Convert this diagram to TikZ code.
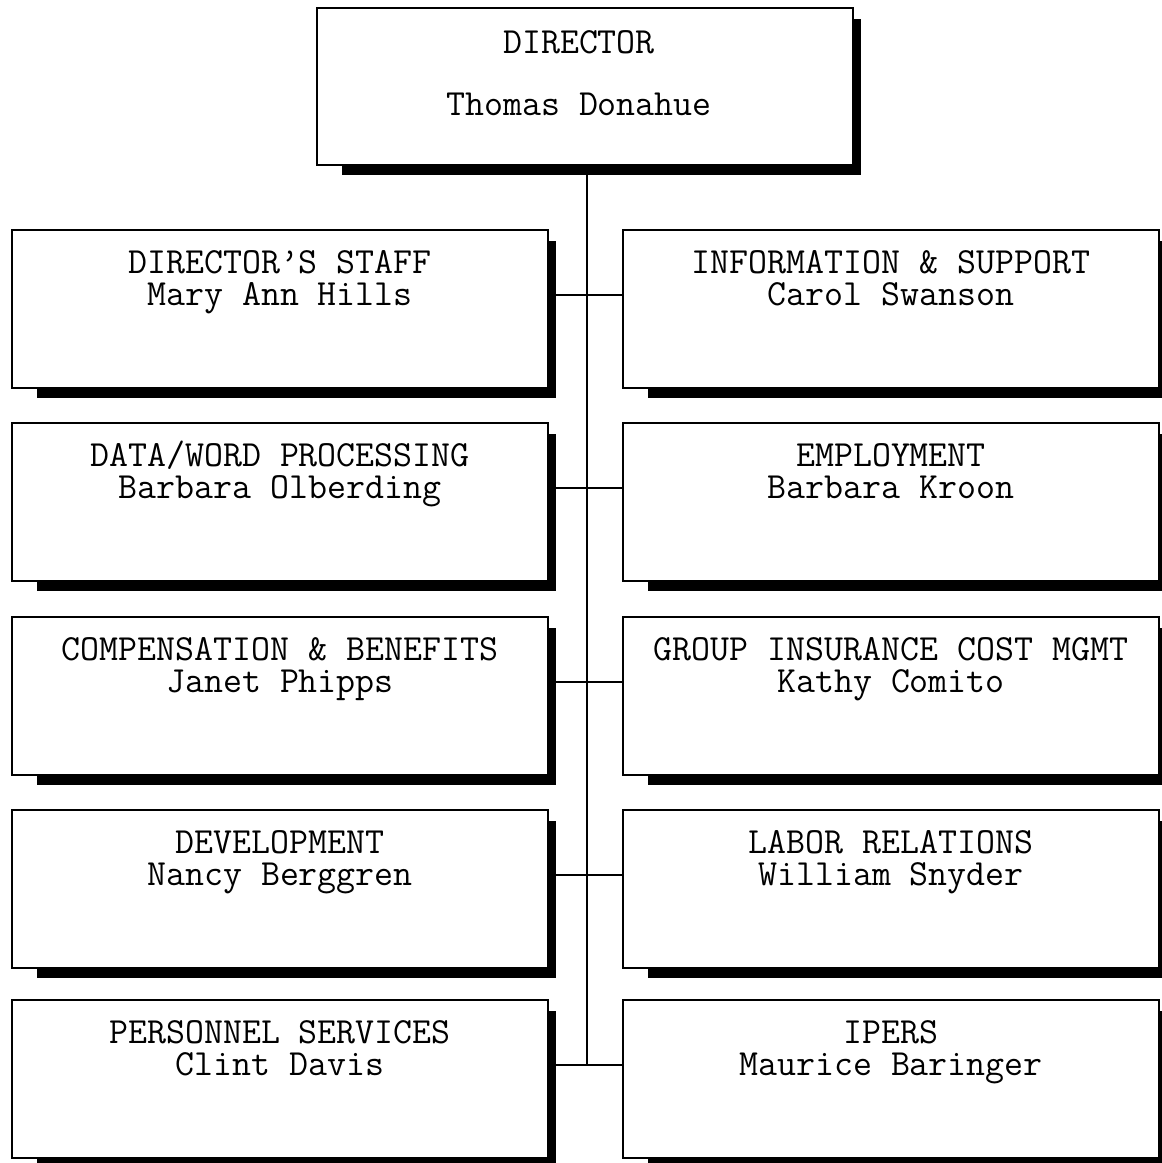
\documentclass[tikz,border=0pt]{standalone}
\usepackage{tikz}
\usetikzlibrary{calc}

\tikzset{
  unit/.style={draw, line width=1.3pt, minimum width=13.4cm, minimum height=3.95cm, inner sep=0pt},
  unittext/.style={anchor=base, inner sep=0pt, text height=0.5cm, text depth=0pt,
    font=\ttfamily\fontsize{26.2}{31}\selectfont},
  link/.style={line width=1pt}
}
% box with its heavy shadow on the right and below, title and person inside
\def\orgunit(#1)(#2)#3#4{%
  \node[unit] (#1) at (#2) {};
  \fill ($(#1.north east)+(0,12)$) rectangle ($(#1.south east)+(7,9)$);
  \fill ($(#1.south west)+(26,0)$) rectangle ($(#1.south east)+(7,9)$);
  \node[unittext] (#1title) at ($(#1.north)+(0,44)$) {#3};
  \node[unittext] (#1name) at ($(#1.north)+(0,76)$) {#4};}

\begin{document}
\begin{tikzpicture}[x=0.025cm, y=-0.025cm]
		\useasboundingbox (0,0) rectangle (1162,1163);
		
		%%%%% DIRECTOR %%%%%
		\node[unit, minimum height=3.925cm] (dir) at (585,86.5) {};
		\fill ($(dir.north east)+(0,12)$) rectangle ($(dir.south east)+(7,9)$);
		\fill ($(dir.south west)+(26,0)$) rectangle ($(dir.south east)+(7,9)$);
		\node[unittext] (dirtitle) at ($(dir.north)+(-6,46)$) {DIRECTOR};
		\node[unittext] (dirname) at ($(dir.north)+(-6,108)$) {Thomas Donahue};
		
		%%%%% UNITS %%%%%
		\orgunit(l1)(280,309){DIRECTOR’S STAFF}{Mary Ann Hills}
		\orgunit(r1)(891,309){INFORMATION \& SUPPORT}{Carol Swanson}
		
		\orgunit(l2)(280,502){DATA/WORD PROCESSING}{Barbara Olberding}
		\orgunit(r2)(891,502){EMPLOYMENT}{Barbara Kroon}
		
		\orgunit(l3)(280,696){COMPENSATION \& BENEFITS}{Janet Phipps}
		\orgunit(r3)(891,696){GROUP INSURANCE COST MGMT}{Kathy Comito}
		
		\orgunit(l4)(280,889){DEVELOPMENT}{Nancy Berggren}
		\orgunit(r4)(891,889){LABOR RELATIONS}{William Snyder}
		
		\orgunit(l5)(280,1079){PERSONNEL SERVICES}{Clint Davis}
		\orgunit(r5)(891,1079){IPERS}{Maurice Baringer}
		
		%%%%% LINES %%%%%
		\draw[link] ($(dir.south)+(2,0)$) -- ($(dir.south |- r5name)+(2,0)$);
		\draw[link] (l1.east |- r1name) -- (r1.west |- r1name);
		\draw[link] (l2.east |- r2name) -- (r2.west |- r2name);
		\draw[link] (l3.east |- r3name) -- (r3.west |- r3name);
		\draw[link] (l4.east |- r4name) -- (r4.west |- r4name);
		\draw[link] (l5.east |- r5name) -- (r5.west |- r5name);
		
\end{tikzpicture}
\end{document}
